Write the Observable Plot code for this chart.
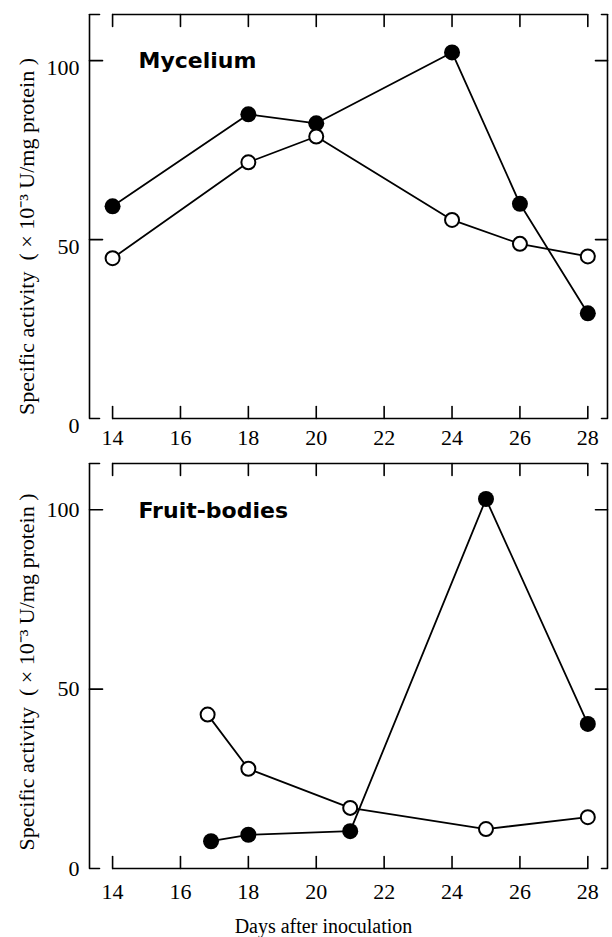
<!DOCTYPE html>
<html>
<head>
<meta charset="utf-8">
<script src="https://cdn.jsdelivr.net/npm/d3@7"></script>
<script src="https://cdn.jsdelivr.net/npm/@observablehq/plot@0.6"></script>
<style>
  html, body { margin: 0; padding: 0; background: #fff; }
  #chart { width: 612px; }
  #chart svg { display: block; }
</style>
</head>
<body>
<div id="chart"></div>
<script>
// ---- data ----
const xTicks = [14, 16, 18, 20, 22, 24, 26, 28];
const yTicks = [0, 50, 100];
const yLabelTicks = [50, 100];

const myceliumFilledDays = [14, 18, 20, 24, 26, 28];
const myceliumFilled     = [59.3, 85, 82.5, 102.3, 60, 29.4];
const myceliumOpenDays   = [14, 18, 20, 24, 26, 28];
const myceliumOpen       = [44.8, 71.6, 78.8, 55.5, 48.8, 45.3];

const fruitFilledDays = [16.9, 18, 21, 25, 28];
const fruitFilled     = [7.6, 9.4, 10.4, 103, 40.3];
const fruitOpenDays   = [16.8, 18, 21, 25, 28];
const fruitOpen       = [42.9, 27.8, 16.9, 11, 14.3];

const yTitle = "Specific activity  ( × 10⁻³ U/mg protein )";
const xTitle = "Days after inoculation";

// ---- helpers ----
const xDomain = [13.32, 28.58];
const yDomain = [0, 112.9];
const serif = "'Liberation Serif', 'Times New Roman', serif";
const tickShape = {draw(context, l) { context.moveTo(0, 0); context.lineTo(0, -l); }};
const table = (xs, ys) => xs.map((x, i) => ({x, y: ys[i]}));

function panel({filled, open, title, height, marginTop, marginBottom, yDy, xPad, titleDy, yTitleDy, showXTitle}) {
  const [x0, x1] = xDomain;
  const [, y1] = yDomain;
  const frame = {stroke: "black", strokeWidth: 1.6};
  const tick = {stroke: "black", strokeWidth: 1.6, anchor: "start", shape: tickShape};
  return Plot.plot({
    width: 612,
    height,
    marginLeft: 89,
    marginRight: 5,
    marginTop,
    marginBottom,
    x: {domain: xDomain},
    y: {domain: yDomain},
    style: {fontFamily: serif, color: "black", background: "white", overflow: "visible"},
    marks: [
      // tick labels
      Plot.axisX(xTicks, {anchor: "bottom", tickSize: 0, tickPadding: xPad, fontSize: 22, label: null}),
      Plot.axisY(yTicks, {anchor: "left", tickSize: 0, tickPadding: 10, fontSize: 22, dy: yDy, label: null}),
      // axis titles
      Plot.text([yTitle], {frameAnchor: "left", rotate: -90, textAnchor: "middle", lineAnchor: "top",
        dx: -71, dy: yTitleDy, fontSize: 22, fill: "black"}),
      showXTitle
        ? Plot.text([xTitle], {frameAnchor: "bottom", textAnchor: "middle", lineAnchor: "bottom",
            dx: -25, dy: 64, fontSize: 20, fill: "black"})
        : null,
      // broken frame
      Plot.ruleY([0, y1], {x1: xTicks[0], x2: xTicks[xTicks.length - 1], ...frame}),
      Plot.ruleX([x0, x1], {y1: 0, y2: y1, ...frame}),
      Plot.vector([0, y1], {x: x0, y: d => d, length: 10, rotate: 90, ...tick}),
      Plot.vector([0, y1], {x: x1, y: d => d, length: 6, rotate: -90, ...tick}),
      // inward ticks
      Plot.vector(xTicks, {x: d => d, y: 0, length: 12, rotate: 0, ...tick}),
      Plot.vector(xTicks, {x: d => d, y: y1, length: 12, rotate: 180, ...tick}),
      Plot.vector(yLabelTicks, {x: x0, y: d => d, length: 13, rotate: 90, ...tick}),
      Plot.vector(yLabelTicks, {x: x1, y: d => d, length: 12, rotate: -90, ...tick}),
      // series
      Plot.line(filled, {x: "x", y: "y", stroke: "black", strokeWidth: 1.8}),
      Plot.line(open, {x: "x", y: "y", stroke: "black", strokeWidth: 1.8}),
      Plot.dot(filled, {x: "x", y: "y", r: 8, fill: "black", stroke: null}),
      Plot.dot(open, {x: "x", y: "y", r: 7, fill: "white", stroke: "black", strokeWidth: 2}),
      // panel title
      Plot.text([title], {frameAnchor: "top-left", textAnchor: "start", lineAnchor: "bottom", dx: 49, dy: titleDy,
        fontFamily: "'DejaVu Sans', sans-serif", fontWeight: "bold", fontSize: 22, fill: "black"})
    ]
  });
}

const topPanel = panel({
  filled: table(myceliumFilledDays, myceliumFilled),
  open: table(myceliumOpenDays, myceliumOpen),
  title: "Mycelium",
  height: 448, marginTop: 14, marginBottom: 30,
  yDy: 7, xPad: 11, titleDy: 53, yTitleDy: 20, showXTitle: false
});
const bottomPanel = panel({
  filled: table(fruitFilledDays, fruitFilled),
  open: table(fruitOpenDays, fruitOpen),
  title: "Fruit-bodies",
  height: 489, marginTop: 15, marginBottom: 69,
  yDy: 0, xPad: 15, titleDy: 54, yTitleDy: 6, showXTitle: true
});
document.getElementById("chart").append(topPanel, bottomPanel);
</script>
</body>
</html>
